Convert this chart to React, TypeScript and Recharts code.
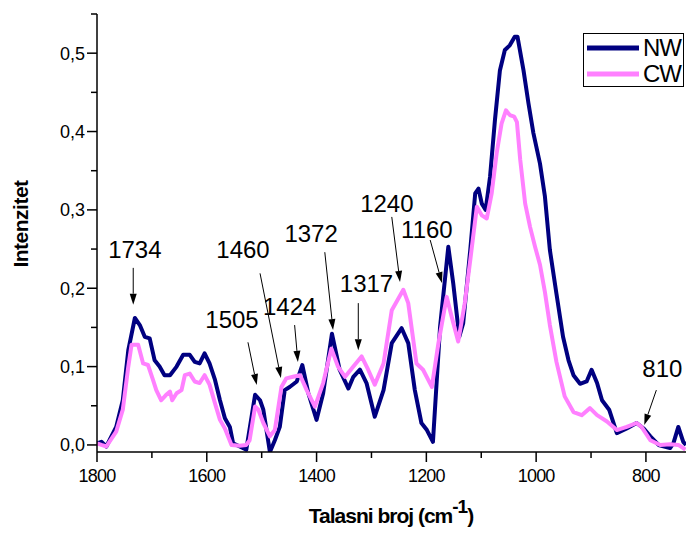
import React from 'react';
import {
  LineChart,
  Line,
  XAxis,
  YAxis,
  Legend,
  Label,
  ReferenceLine,
  ReferenceDot
} from 'recharts';

// NW spectrum (navy)
const nwWave = [
  1800, 1792, 1783, 1765, 1753, 1743, 1731, 1722, 1713, 1704, 1695, 1686, 1677, 1667, 1655, 1643,
  1631, 1622, 1613, 1604, 1595, 1585, 1576, 1567, 1558, 1552, 1540, 1528, 1512, 1503, 1497, 1485,
  1476, 1467, 1458, 1449, 1436, 1426, 1415, 1400, 1388, 1372, 1358, 1342, 1333, 1321, 1309, 1294,
  1278, 1263, 1245, 1233, 1221, 1209, 1199, 1188, 1175, 1160, 1151, 1140, 1133, 1120, 1111, 1105,
  1099, 1092, 1084, 1075, 1066, 1057, 1048, 1039, 1034, 1023, 1014, 1005, 993, 984, 975, 963,
  951, 941, 932, 920, 908, 899, 889, 880, 867, 853, 835, 817, 804, 792, 777, 756,
  750, 741, 732, 727
];
const nwInt = [
  0.002, 0.004, -0.002, 0.023, 0.057, 0.121, 0.162, 0.153, 0.138, 0.136, 0.108, 0.1, 0.089, 0.089, 0.1, 0.115,
  0.115, 0.106, 0.104, 0.117, 0.104, 0.083, 0.057, 0.034, 0.023, 0.002, -0.002, -0.006, 0.064, 0.057, 0.045, -0.009,
  0.006, 0.023, 0.07, 0.074, 0.081, 0.102, 0.066, 0.032, 0.066, 0.142, 0.096, 0.072, 0.087, 0.096, 0.079, 0.036,
  0.07, 0.13, 0.149, 0.13, 0.07, 0.028, 0.019, 0.004, 0.151, 0.253, 0.206, 0.138, 0.155, 0.249, 0.321, 0.327,
  0.308, 0.3, 0.342, 0.415, 0.478, 0.504, 0.51, 0.521, 0.521, 0.478, 0.436, 0.398, 0.359, 0.317, 0.249, 0.193,
  0.138, 0.108, 0.089, 0.078, 0.081, 0.096, 0.079, 0.057, 0.045, 0.015, 0.021, 0.028, 0.021, 0.011, 0.0, -0.004,
  0.002, 0.023, 0.004, 0.0
];

// CW spectrum (pink)
const cwWave = [
  1800, 1792, 1783, 1765, 1753, 1743, 1737, 1725, 1716, 1707, 1698, 1692, 1683, 1674, 1667, 1663,
  1655, 1646, 1640, 1631, 1622, 1613, 1604, 1595, 1585, 1576, 1567, 1555, 1540, 1528, 1522, 1512,
  1506, 1497, 1485, 1476, 1464, 1455, 1443, 1430, 1418, 1403, 1388, 1373, 1361, 1348, 1333, 1318,
  1306, 1294, 1278, 1263, 1242, 1233, 1218, 1206, 1190, 1178, 1163, 1154, 1142, 1130, 1120, 1108,
  1099, 1090, 1081, 1072, 1063, 1055, 1048, 1040, 1035, 1029, 1020, 1011, 1002, 993, 984, 975,
  963, 948, 932, 917, 902, 889, 871, 853, 835, 817, 808, 792, 774, 756, 741, 728
];
const cwInt = [
  0.002, 0.0, -0.002, 0.017, 0.045, 0.1, 0.128, 0.128, 0.104, 0.102, 0.083, 0.07, 0.057, 0.064, 0.068, 0.057,
  0.066, 0.07, 0.089, 0.091, 0.081, 0.079, 0.089, 0.077, 0.053, 0.032, 0.021, 0.0, -0.001, 0.0, 0.006, 0.049,
  0.045, 0.028, 0.011, 0.019, 0.074, 0.085, 0.087, 0.089, 0.07, 0.049, 0.079, 0.123, 0.1, 0.087, 0.1, 0.113,
  0.096, 0.077, 0.104, 0.172, 0.198, 0.181, 0.104, 0.096, 0.074, 0.13, 0.189, 0.164, 0.132, 0.181, 0.236, 0.304,
  0.293, 0.289, 0.321, 0.372, 0.41, 0.427, 0.421, 0.419, 0.412, 0.364, 0.308, 0.278, 0.253, 0.23, 0.195, 0.153,
  0.106, 0.062, 0.042, 0.038, 0.047, 0.038, 0.03, 0.019, 0.023, 0.028, 0.023, 0.006, 0.0, 0.001, 0.0, -0.006
];

const xTicks = [1800, 1700, 1600, 1500, 1400, 1300, 1200, 1100, 1000, 900, 800];
const yTicks = [0, 0.05, 0.1, 0.15, 0.2, 0.25, 0.3, 0.35, 0.4, 0.45, 0.5, 0.55];

// peak annotations (label anchor + arrow from/to, in data units)
const peakLabels = ['1734', '1460', '1372', '1505', '1424', '1317', '1240', '1160', '810'];
const labelWave = [1731, 1534, 1410, 1554, 1449, 1309, 1272, 1199, 770];
const labelInt = [0.2385, 0.2385, 0.259, 0.149, 0.166, 0.1955, 0.2976, 0.264, 0.087];
const arrowFromWave = [1734, 1503, 1385, 1525, 1440, 1324, 1263, 1193, 781];
const arrowFromInt = [0.226, 0.219, 0.246, 0.131, 0.153, 0.181, 0.291, 0.2615, 0.07];
const arrowToWave = [1734, 1465, 1370, 1509, 1434, 1324, 1248, 1171.5, 803];
const arrowToInt = [0.179, 0.0855, 0.1467, 0.0765, 0.106, 0.121, 0.208, 0.2066, 0.0255];

const FONT = 'Arial, "Liberation Sans", sans-serif';
const NAVY = '#000080';
const PINK = '#ff80ff';

const nwData = nwWave.map((w, i) => ({ w, v: nwInt[i] }));
const cwData = cwWave.map((w, i) => ({ w, v: cwInt[i] }));

const XTick = (props: any) => {
  const { x, y, payload } = props;
  const major = payload.value % 200 === 0;
  return (
    <g>
      <line x1={x} x2={x} y1={y} y2={y + (major ? 10 : 6)} stroke="#000" strokeWidth={1.5} />
      {major && (
        <text x={x} y={y + 30} textAnchor="middle" fontSize={18} letterSpacing={-0.8} fill="#000" fontFamily={FONT}>
          {payload.value}
        </text>
      )}
    </g>
  );
};

const YTick = (props: any) => {
  const { x, y, payload } = props;
  const major = Math.round(payload.value * 100) % 10 === 0;
  return (
    <g>
      <line x1={x - (major ? 10 : 6)} x2={x} y1={y} y2={y} stroke="#000" strokeWidth={1.5} />
      {major && (
        <text x={x - 12} y={y + 6.5} textAnchor="end" fontSize={18} fill="#000" fontFamily={FONT}>
          {payload.value.toFixed(1).replace('.', ',')}
        </text>
      )}
    </g>
  );
};

const Arrow = (p: any) => {
  const { x1, y1, x2, y2 } = p;
  const a = Math.atan2(y2 - y1, x2 - x1);
  const len = 11;
  const half = 3.5;
  const bx = x2 - len * Math.cos(a);
  const by = y2 - len * Math.sin(a);
  const pts = `${x2},${y2} ${bx + half * Math.sin(a)},${by - half * Math.cos(a)} ${bx - half * Math.sin(a)},${by + half * Math.cos(a)}`;
  return (
    <g>
      <line x1={x1} y1={y1} x2={bx} y2={by} stroke="#000" strokeWidth={1} />
      <polygon points={pts} fill="#000" />
    </g>
  );
};

const LegendBox = () => (
  <div
    style={{
      width: 101,
      height: 54,
      border: '1.5px solid #000',
      boxSizing: 'border-box',
      background: '#fff',
      position: 'relative',
      fontFamily: FONT,
      fontSize: 24
    }}
  >
    {[{ name: 'NW', color: NAVY, top: 1 }, { name: 'CW', color: PINK, top: 27 }].map(s => (
      <div key={s.name} style={{ position: 'absolute', left: 3, top: s.top, height: 26, display: 'flex', alignItems: 'center' }}>
        <svg width={52} height={8} style={{ display: 'block' }}>
          <line x1={0} x2={52} y1={4} y2={4} stroke={s.color} strokeWidth={5} />
        </svg>
        <span style={{ marginLeft: 4, letterSpacing: -1, lineHeight: '26px', color: '#000' }}>{s.name}</span>
      </div>
    ))}
  </div>
);

export default function App() {
  return (
    <div style={{ position: 'absolute', left: 0, top: 0, width: 686, height: 533, background: '#fff', fontFamily: FONT }}>
      <LineChart width={686} height={533} margin={{ top: 14, right: 0, bottom: 0, left: 0 }}>
        <XAxis
          type="number"
          dataKey="w"
          domain={[727, 1800]}
          reversed
          allowDataOverflow
          ticks={xTicks}
          interval={0}
          height={81}
          tickSize={0}
          tickMargin={0}
          tickLine={false}
          tick={<XTick />}
          axisLine={{ stroke: '#000', strokeWidth: 1.5 }}
        >
          <Label
            content={() => (
              <text x={391} y={523} textAnchor="middle" fontSize={21} fontWeight="bold" letterSpacing={-1} fill="#000" fontFamily={FONT}>
                Talasni broj (cm
                <tspan dy={-10} fontSize={19}>-1</tspan>
                <tspan dy={10}>)</tspan>
              </text>
            )}
          />
        </XAxis>
        <YAxis
          type="number"
          domain={[-0.009, 0.55]}
          allowDataOverflow
          ticks={yTicks}
          interval={0}
          width={97}
          tickSize={0}
          tickMargin={0}
          tickLine={false}
          tick={<YTick />}
          axisLine={{ stroke: '#000', strokeWidth: 1.5 }}
        >
          <Label
            content={() => (
              <text
                transform="translate(28,224) rotate(-90)"
                textAnchor="middle"
                fontSize={21}
                fontWeight="bold"
                letterSpacing={-0.5}
                fill="#000"
                fontFamily={FONT}
              >
                Intenzitet
              </text>
            )}
          />
        </YAxis>
        <Legend
          layout="vertical"
          align="center"
          verticalAlign="middle"
          content={<LegendBox />}
          wrapperStyle={{ left: 583, top: 33, width: 101, height: 54 }}
        />
        <Line
          data={nwData}
          dataKey="v"
          name="NW"
          type="linear"
          stroke={NAVY}
          strokeWidth={4}
          strokeLinejoin="round"
          dot={false}
          isAnimationActive={false}
        />
        <Line
          data={cwData}
          dataKey="v"
          name="CW"
          type="linear"
          stroke={PINK}
          strokeWidth={4}
          strokeLinejoin="round"
          dot={false}
          isAnimationActive={false}
        />
        {peakLabels.map((lab, i) => (
          <ReferenceLine
            key={`arrow-${lab}`}
            segment={[
              { x: arrowFromWave[i], y: arrowFromInt[i] },
              { x: arrowToWave[i], y: arrowToInt[i] }
            ]}
            ifOverflow="visible"
            shape={Arrow}
          />
        ))}
        {peakLabels.map((lab, i) => (
          <ReferenceDot
            key={`label-${lab}`}
            x={labelWave[i]}
            y={labelInt[i]}
            r={0}
            ifOverflow="visible"
            shape={(p: any) => (
              <text x={p.cx} y={p.cy} textAnchor="middle" fontSize={24} fill="#000" fontFamily={FONT}>
                {lab}
              </text>
            )}
          />
        ))}
      </LineChart>
    </div>
  );
}
